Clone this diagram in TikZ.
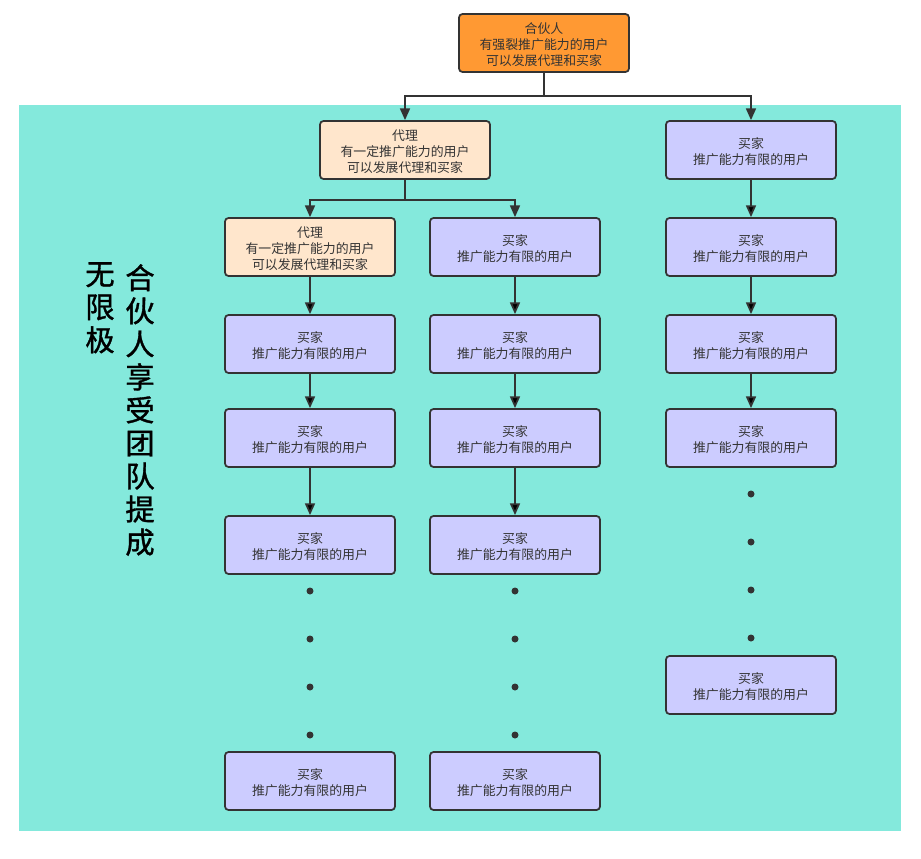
\documentclass[tikz,border=0pt]{standalone}
\usepackage{fontspec}
\setmainfont{Noto Sans CJK SC}
\newfontfamily\sidefont[FakeBold=1.2]{Noto Sans CJK SC}
\usetikzlibrary{arrows.meta,positioning}
\definecolor{bgteal}{HTML}{84E9DC}
\definecolor{partner}{HTML}{FF9933}
\definecolor{agentc}{HTML}{FFE6CC}
\definecolor{buyerc}{HTML}{CCCCFF}
\definecolor{linec}{HTML}{333333}
\tikzset{>={Triangle[length=10pt,width=8.5pt]}}
\tikzset{
    box/.style={draw=linec,line width=1.5pt,rounded corners=3pt,minimum width=170*0.03cm,
        minimum height=58*0.03cm,align=center,text=linec,inner sep=0pt,
        font=\fontsize{11}{13.6}\selectfont},
    partnerbox/.style={box,fill=partner},
    agentbox/.style={box,fill=agentc},
    buyerbox/.style={box,fill=buyerc},
    dot/.style={circle,fill=linec,inner sep=0pt,minimum size=7*0.03cm},
    link/.style={->,draw=linec,line width=1.5pt},
    sidetext/.style={font=\fontsize{25}{28.2}\sidefont,align=center,inner sep=0pt,anchor=north}
}
% lines of a box, set a little lower than centre
\newcommand{\boxlines}[1]{\raisebox{0pt}[\dimexpr\height+5pt\relax][\depth]{\begin{tabular}{@{}c@{}}#1\end{tabular}}}
\newcommand{\buyertext}{\boxlines{买家\\推广能力有限的用户}}
\newcommand{\agenttext}{\boxlines{代理\\有一定推广能力的用户\\可以发展代理和买家}}
\begin{document}
\begin{tikzpicture}[x=0.03cm,y=-0.03cm]
    \useasboundingbox (0,0) rectangle (921,858);
    \fill[bgteal] (19,105) rectangle (901,831);
    % top
    \node[partnerbox] (p) at (544,43) {\boxlines{合伙人\\有强裂推广能力的用户\\可以发展代理和买家}};
    \node[agentbox] (a1) at (405,150) {\agenttext};
    \node[buyerbox] (r1) at (751,150) {\buyertext};
    % left column
    \node[agentbox] (a2) at (310,247) {\agenttext};
    \node[buyerbox] (l2) at (310,344) {\buyertext};
    \node[buyerbox] (l3) at (310,438) {\buyertext};
    \node[buyerbox] (l4) at (310,545) {\buyertext};
    \node[buyerbox] (l5) at (310,781) {\buyertext};
    % middle column
    \node[buyerbox] (m1) at (515,247) {\buyertext};
    \node[buyerbox] (m2) at (515,344) {\buyertext};
    \node[buyerbox] (m3) at (515,438) {\buyertext};
    \node[buyerbox] (m4) at (515,545) {\buyertext};
    \node[buyerbox] (m5) at (515,781) {\buyertext};
    % right column
    \node[buyerbox] (r2) at (751,247) {\buyertext};
    \node[buyerbox] (r3) at (751,344) {\buyertext};
    \node[buyerbox] (r4) at (751,438) {\buyertext};
    \node[buyerbox] (r5) at (751,685) {\buyertext};
    % dots
    \foreach \y in {591,639,687,735} {
        \node[dot] at (310,\y) {};
        \node[dot] at (515,\y) {};
    }
    \foreach \y in {494,542,590,638}
        \node[dot] at (751,\y) {};
    % side text
    \node[sidetext] (t1) at (100,262) {无\\限\\极};
    \node[sidetext] (t2) at (140,264) {合\\伙\\人\\享\\受\\团\\队\\提\\成};
    % connectors
    \coordinate (pj) at (544,96);
    \coordinate (aj) at (405,200);
    \draw[link,-] (p.south) -- (pj);
    \draw[link] (pj) -| (a1.north);
    \draw[link] (pj) -| (r1.north);
    \draw[link,-] (a1.south) -- (aj);
    \draw[link] (aj) -| (a2.north);
    \draw[link] (aj) -| (m1.north);
    \path[link]
        (a2) edge (l2)
        (l2) edge (l3)
        (l3) edge (l4)
        (m1) edge (m2)
        (m2) edge (m3)
        (m3) edge (m4)
        (r1) edge (r2)
        (r2) edge (r3)
        (r3) edge (r4)
    ;
\end{tikzpicture}
\end{document}
